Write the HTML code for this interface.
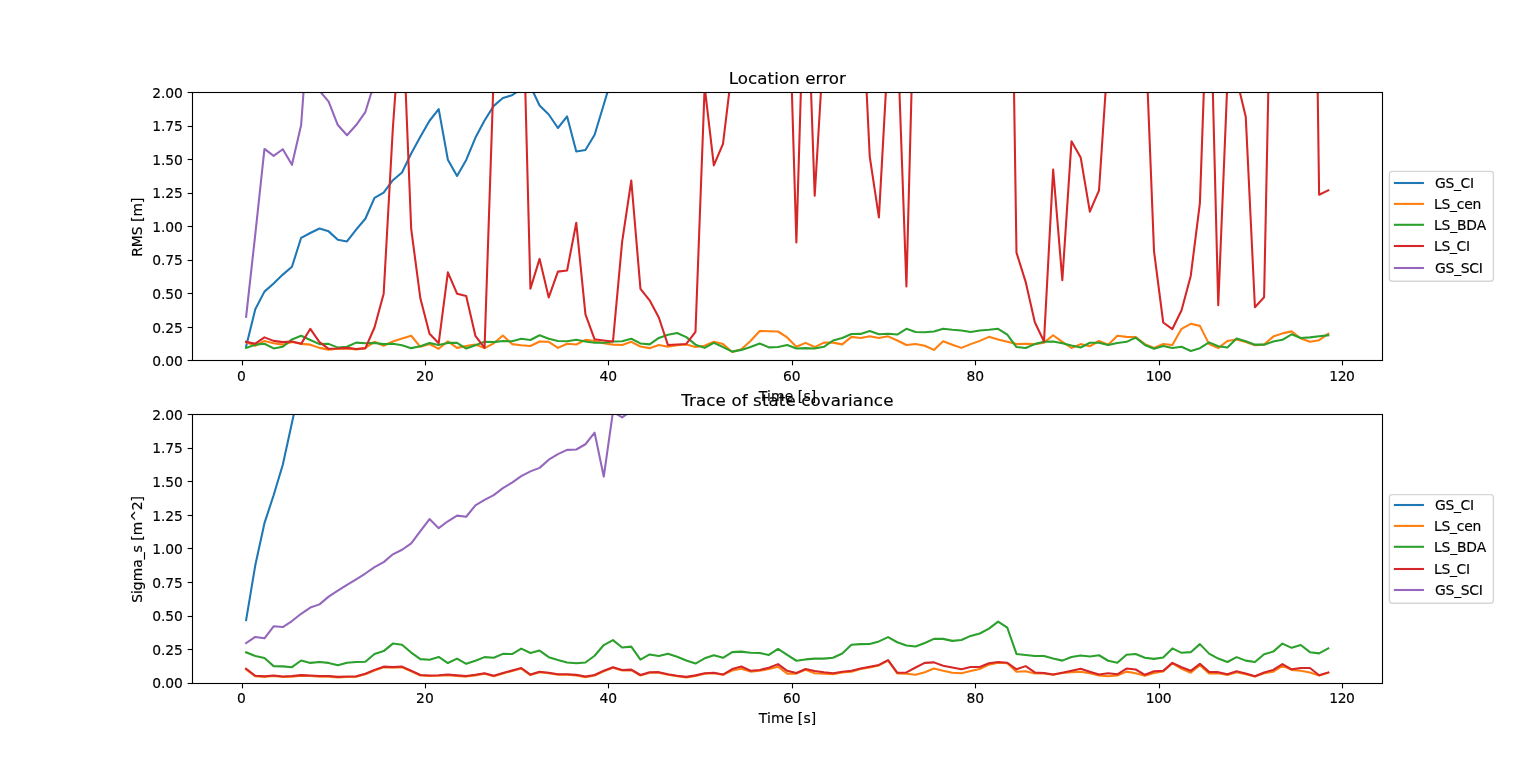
<!DOCTYPE html>
<html lang="en"><head><meta charset="utf-8"><title>Location error / Trace of state covariance</title>
<style>html,body{margin:0;padding:0;background:#ffffff;overflow:hidden}body{width:1536px;height:767px}svg text{white-space:pre;stroke:#000000;stroke-width:0.16px;stroke-linejoin:round}</style>
</head><body>
<svg width="1536" height="767" viewBox="0 0 1536 767" style="display:block">
<rect width="1536" height="767" fill="#ffffff"/>
<defs>
<clipPath id="c0"><rect x="192.00" y="92.04" width="1190.40" height="268.45"/></clipPath>
<clipPath id="c1"><rect x="192.00" y="414.18" width="1190.40" height="268.45"/></clipPath>
</defs>
<g id="axes1">
<g clip-path="url(#c0)" fill="none" stroke-width="2.083" stroke-linejoin="round" stroke-linecap="square">
<polyline stroke="#1f77b4" points="246.11,346.53 255.28,309.22 264.45,291.63 273.62,283.44 282.79,274.59 291.96,266.80 301.14,237.81 310.31,232.98 319.48,228.55 328.65,231.37 337.82,239.82 346.99,241.43 356.16,229.62 365.33,218.75 374.50,197.81 383.67,192.57 392.85,180.23 402.02,172.44 411.19,153.52 420.36,136.87 429.53,120.76 438.70,109.09 447.87,159.69 457.04,175.93 466.21,159.96 475.38,137.81 484.56,120.50 493.73,105.87 502.90,97.95 512.07,95.26 521.24,88.95 530.41,86.13 539.58,105.46 548.75,114.46 557.92,128.01 567.10,116.47 576.27,151.50 585.44,150.03 594.61,134.72 603.78,104.52 612.95,73.92 622.12,51.77 631.29,40.09 640.46,28.41 649.63,16.73 658.81,5.06 667.98,-6.62 677.15,-18.30 686.32,-29.98 695.49,-41.66 704.66,-53.34 713.83,-65.02 723.00,-76.70 732.17,-88.38 741.34,-100.06 750.52,-111.74 759.69,-123.42 768.86,-135.10 778.03,-146.78 787.20,-158.46 796.37,-170.13 805.54,-181.81 814.71,-193.49 823.88,-205.17 833.06,-216.85 842.23,-228.53 851.40,-240.21 860.57,-251.89 869.74,-263.57 878.91,-275.25 888.08,-286.93 897.25,-298.61 906.42,-310.29 915.59,-321.97 924.77,-333.64 933.94,-345.32 943.11,-357.00 952.28,-368.68 961.45,-380.36 970.62,-392.04 979.79,-403.72 988.96,-415.40 998.13,-427.08 1007.30,-438.76 1016.48,-450.44 1025.65,-462.12 1034.82,-473.80 1043.99,-485.48 1053.16,-497.16 1062.33,-508.83 1071.50,-520.51 1080.67,-532.19 1089.84,-543.87 1099.02,-555.55 1108.19,-567.23 1117.36,-578.91 1126.53,-590.59 1135.70,-602.27 1144.87,-613.95 1154.04,-625.63 1163.21,-637.31 1172.38,-648.99 1181.55,-660.67 1190.73,-672.35 1199.90,-684.02 1209.07,-695.70 1218.24,-707.38 1227.41,-719.06 1236.58,-730.74 1245.75,-742.42 1254.92,-754.10 1264.09,-765.78 1273.26,-777.46 1282.44,-789.14 1291.61,-800.82 1300.78,-812.50 1309.95,-824.18 1319.12,-835.86 1328.29,-847.53"/>
<polyline stroke="#ff7f0e" points="246.11,342.10 255.28,345.73 264.45,340.89 273.62,343.17 282.79,344.65 291.96,342.10 301.14,343.85 310.31,344.65 319.48,347.87 328.65,349.62 337.82,348.81 346.99,348.41 356.16,349.35 365.33,347.87 374.50,341.83 383.67,345.73 392.85,341.56 402.02,338.48 411.19,335.79 420.36,346.80 429.53,343.98 438.70,348.81 447.87,341.30 457.04,347.87 466.21,345.99 475.38,344.65 484.56,348.14 493.73,343.31 502.90,335.52 512.07,344.11 521.24,345.19 530.41,345.99 539.58,341.56 548.75,341.83 557.92,347.87 567.10,343.71 576.27,344.52 585.44,339.82 594.61,341.03 603.78,343.17 612.95,344.65 622.12,344.92 631.29,341.83 640.46,346.53 649.63,348.14 658.81,345.05 667.98,346.80 677.15,345.19 686.32,344.52 695.49,346.93 704.66,345.73 713.83,341.83 723.00,344.11 732.17,352.03 741.34,349.22 750.52,341.03 759.69,330.96 768.86,331.23 778.03,331.50 787.20,337.40 796.37,346.80 805.54,342.91 814.71,347.07 823.88,342.64 833.06,342.64 842.23,344.38 851.40,336.87 860.57,337.94 869.74,336.20 878.91,338.07 888.08,336.33 897.25,340.49 906.42,345.05 915.59,343.98 924.77,345.73 933.94,349.89 943.11,341.30 952.28,344.65 961.45,347.87 970.62,344.11 979.79,340.89 988.96,336.87 998.13,339.42 1007.30,341.83 1016.48,344.11 1025.65,343.71 1034.82,344.11 1043.99,342.64 1053.16,335.26 1062.33,341.83 1071.50,348.01 1080.67,344.11 1089.84,346.26 1099.02,340.89 1108.19,344.65 1117.36,335.79 1126.53,336.87 1135.70,337.13 1144.87,344.11 1154.04,347.87 1163.21,343.98 1172.38,345.05 1181.55,328.81 1190.73,323.85 1199.90,325.86 1209.07,344.11 1218.24,348.14 1227.41,341.03 1236.58,339.42 1245.75,342.10 1254.92,345.19 1264.09,344.65 1273.26,336.60 1282.44,333.38 1291.61,331.36 1300.78,338.48 1309.95,341.83 1319.12,340.22 1328.29,333.78"/>
<polyline stroke="#2ca02c" points="246.11,347.87 255.28,344.65 264.45,343.71 273.62,348.41 282.79,346.80 291.96,339.42 301.14,335.79 310.31,339.95 319.48,344.11 328.65,343.85 337.82,347.60 346.99,346.80 356.16,342.64 365.33,343.31 374.50,342.91 383.67,344.11 392.85,343.71 402.02,345.19 411.19,348.14 420.36,346.26 429.53,342.91 438.70,345.05 447.87,342.91 457.04,342.91 466.21,348.54 475.38,345.19 484.56,341.83 493.73,342.10 502.90,341.03 512.07,341.30 521.24,338.75 530.41,339.95 539.58,335.26 548.75,338.75 557.92,341.03 567.10,341.30 576.27,339.69 585.44,341.56 594.61,342.77 603.78,342.77 612.95,341.56 622.12,341.30 631.29,338.75 640.46,343.44 649.63,344.38 658.81,337.94 667.98,334.72 677.15,332.97 686.32,337.13 695.49,344.65 704.66,347.87 713.83,342.91 723.00,347.07 732.17,351.63 741.34,349.89 750.52,347.07 759.69,343.44 768.86,347.34 778.03,346.93 787.20,345.05 796.37,348.54 805.54,348.14 814.71,348.54 823.88,346.80 833.06,340.49 842.23,337.94 851.40,334.05 860.57,333.91 869.74,331.09 878.91,334.32 888.08,333.78 897.25,334.58 906.42,328.81 915.59,332.03 924.77,332.30 933.94,331.50 943.11,328.68 952.28,329.75 961.45,330.56 970.62,332.03 979.79,330.42 988.96,329.75 998.13,328.81 1007.30,334.58 1016.48,347.07 1025.65,348.01 1034.82,344.11 1043.99,341.83 1053.16,341.56 1062.33,343.17 1071.50,345.59 1080.67,347.47 1089.84,342.77 1099.02,342.77 1108.19,344.92 1117.36,342.91 1126.53,341.83 1135.70,337.67 1144.87,344.92 1154.04,348.81 1163.21,345.99 1172.38,348.01 1181.55,346.80 1190.73,350.96 1199.90,348.14 1209.07,342.37 1218.24,346.26 1227.41,347.47 1236.58,338.61 1245.75,341.30 1254.92,344.65 1264.09,344.65 1273.26,341.56 1282.44,339.82 1291.61,334.32 1300.78,338.07 1309.95,337.40 1319.12,336.20 1328.29,335.26"/>
<polyline stroke="#d62728" points="246.11,341.83 255.28,343.71 264.45,337.40 273.62,340.89 282.79,342.10 291.96,341.56 301.14,343.85 310.31,328.81 319.48,342.10 328.65,348.81 337.82,348.54 346.99,347.87 356.16,349.08 365.33,348.41 374.50,327.47 383.67,293.65 392.85,128.28 402.02,-0.58 411.19,228.95 420.36,298.34 429.53,333.78 438.70,343.17 447.87,272.30 457.04,293.65 466.21,295.93 475.38,335.79 484.56,347.87 493.73,73.79 502.90,-42.18 512.07,-109.30 521.24,-67.69 530.41,288.81 539.58,258.88 548.75,297.40 557.92,271.63 567.10,270.43 576.27,222.78 585.44,314.45 594.61,339.28 603.78,340.49 612.95,341.56 622.12,241.97 631.29,180.49 640.46,288.81 649.63,300.36 658.81,317.54 667.98,345.05 677.15,344.52 686.32,343.98 695.49,331.90 704.66,86.67 713.83,165.33 723.00,143.85 732.17,67.88 741.34,-42.18 750.52,-42.18 759.69,-42.18 768.86,-42.18 778.03,-42.18 787.20,-65.00 796.37,242.37 805.54,-65.00 814.71,195.80 823.88,42.38 833.06,-42.18 842.23,-42.18 851.40,-42.18 860.57,-34.13 869.74,156.60 878.91,217.41 888.08,51.77 897.25,30.30 906.42,286.53 915.59,-63.66 924.77,-42.18 933.94,-42.18 943.11,-42.18 952.28,-42.18 961.45,-42.18 970.62,-42.18 979.79,-42.18 988.96,-42.18 998.13,-42.18 1007.30,-350.90 1016.48,252.57 1025.65,281.83 1034.82,322.24 1043.99,341.56 1053.16,169.49 1062.33,280.09 1071.50,141.30 1080.67,157.41 1089.84,211.63 1099.02,190.29 1108.19,52.31 1117.36,-42.18 1126.53,-42.18 1135.70,-42.18 1144.87,20.23 1154.04,251.37 1163.21,322.50 1172.38,329.08 1181.55,310.29 1190.73,275.93 1199.90,203.18 1209.07,-58.29 1218.24,305.32 1227.41,81.30 1236.58,78.62 1245.75,116.74 1254.92,307.20 1264.09,297.27 1273.26,-150.91 1282.44,-42.18 1291.61,-42.18 1300.78,-42.18 1309.95,-471.70 1319.12,194.72 1328.29,190.29"/>
<polyline stroke="#9467bd" points="246.11,316.73 255.28,234.32 264.45,148.95 273.62,155.93 282.79,149.22 291.96,164.79 301.14,125.06 310.31,-1.92 319.48,90.70 328.65,101.57 337.82,125.06 346.99,135.26 356.16,125.06 365.33,112.04 374.50,82.64 383.67,38.35 392.85,25.84 402.02,13.33 411.19,0.82 420.36,-11.69 429.53,-24.20 438.70,-36.71 447.87,-49.22 457.04,-61.73 466.21,-74.24 475.38,-86.75 484.56,-99.26 493.73,-111.77 502.90,-124.28 512.07,-136.79 521.24,-149.30 530.41,-161.81 539.58,-174.32 548.75,-186.84 557.92,-199.35 567.10,-211.86 576.27,-224.37 585.44,-236.88 594.61,-249.39 603.78,-261.90 612.95,-274.41 622.12,-286.92 631.29,-299.43 640.46,-311.94 649.63,-324.45 658.81,-336.96 667.98,-349.47 677.15,-361.98 686.32,-374.49 695.49,-387.00 704.66,-399.51 713.83,-412.02 723.00,-424.53 732.17,-437.04 741.34,-449.55 750.52,-462.06 759.69,-474.57 768.86,-487.08 778.03,-499.59 787.20,-512.10 796.37,-524.61 805.54,-537.12 814.71,-549.63 823.88,-562.14 833.06,-574.65 842.23,-587.16 851.40,-599.67 860.57,-612.19 869.74,-624.70 878.91,-637.21 888.08,-649.72 897.25,-662.23 906.42,-674.74 915.59,-687.25 924.77,-699.76 933.94,-712.27 943.11,-724.78 952.28,-737.29 961.45,-749.80 970.62,-762.31 979.79,-774.82 988.96,-787.33 998.13,-799.84 1007.30,-812.35 1016.48,-824.86 1025.65,-837.37 1034.82,-849.88 1043.99,-862.39 1053.16,-874.90 1062.33,-887.41 1071.50,-899.92 1080.67,-912.43 1089.84,-924.94 1099.02,-937.45 1108.19,-949.96 1117.36,-962.47 1126.53,-974.98 1135.70,-987.49 1144.87,-1000.00 1154.04,-1012.51 1163.21,-1025.02 1172.38,-1037.54 1181.55,-1050.05 1190.73,-1062.56 1199.90,-1075.07 1209.07,-1087.58 1218.24,-1100.09 1227.41,-1112.60 1236.58,-1125.11 1245.75,-1137.62 1254.92,-1150.13 1264.09,-1162.64 1273.26,-1175.15 1282.44,-1187.66 1291.61,-1200.17 1300.78,-1212.68 1309.95,-1225.19 1319.12,-1237.70 1328.29,-1250.21"/>
</g>
<g stroke="#000000" stroke-width="1.11" fill="none">
<line x1="242.5" y1="360.5" x2="242.5" y2="365.36"/>
<line x1="425.5" y1="360.5" x2="425.5" y2="365.36"/>
<line x1="608.5" y1="360.5" x2="608.5" y2="365.36"/>
<line x1="792.5" y1="360.5" x2="792.5" y2="365.36"/>
<line x1="975.5" y1="360.5" x2="975.5" y2="365.36"/>
<line x1="1159.5" y1="360.5" x2="1159.5" y2="365.36"/>
<line x1="1342.5" y1="360.5" x2="1342.5" y2="365.36"/>
<line x1="192.5" y1="360.5" x2="187.64" y2="360.5"/>
<line x1="192.5" y1="327.5" x2="187.64" y2="327.5"/>
<line x1="192.5" y1="293.5" x2="187.64" y2="293.5"/>
<line x1="192.5" y1="260.5" x2="187.64" y2="260.5"/>
<line x1="192.5" y1="226.5" x2="187.64" y2="226.5"/>
<line x1="192.5" y1="193.5" x2="187.64" y2="193.5"/>
<line x1="192.5" y1="159.5" x2="187.64" y2="159.5"/>
<line x1="192.5" y1="126.5" x2="187.64" y2="126.5"/>
<line x1="192.5" y1="92.5" x2="187.64" y2="92.5"/>
<rect x="192.5" y="92.5" width="1190.0" height="268.0" stroke-linejoin="miter"/>
</g>
<g style="font-family:'DejaVu Sans','Liberation Sans',sans-serif;font-size:13.889px" fill="#000000">
<text x="241.52" y="380.77" text-anchor="middle">0</text>
<text x="424.94" y="380.77" text-anchor="middle">20</text>
<text x="608.36" y="380.77" text-anchor="middle">40</text>
<text x="791.79" y="380.77" text-anchor="middle">60</text>
<text x="975.21" y="380.77" text-anchor="middle">80</text>
<text x="1158.63" y="380.77" text-anchor="middle" textLength="25.8">100</text>
<text x="1342.05" y="380.77" text-anchor="middle" textLength="25.8">120</text>
<text x="182.73" y="366.00" text-anchor="end" textLength="30.5">0.00</text>
<text x="182.73" y="333.00" text-anchor="end" textLength="30.5">0.25</text>
<text x="182.73" y="299.00" text-anchor="end" textLength="30.5">0.50</text>
<text x="182.73" y="265.00" text-anchor="end" textLength="30.5">0.75</text>
<text x="182.73" y="232.00" text-anchor="end" textLength="30.5">1.00</text>
<text x="182.73" y="198.00" text-anchor="end" textLength="30.5">1.25</text>
<text x="182.73" y="165.00" text-anchor="end" textLength="30.5">1.50</text>
<text x="182.73" y="131.00" text-anchor="end" textLength="30.5">1.75</text>
<text x="182.73" y="98.00" text-anchor="end" textLength="30.5">2.00</text>
<text x="787.50" y="400.89" text-anchor="middle" textLength="57.3">Time [s]</text>
<text transform="translate(142.00,227.26) rotate(-90)" text-anchor="middle">RMS [m]</text>
</g>
<text x="787.30" y="83.94" text-anchor="middle" textLength="117.2" style="font-family:'DejaVu Sans','Liberation Sans',sans-serif;font-size:16.667px" fill="#000000">Location error</text>
<g id="legend1">
<rect x="1389.4" y="171.40" width="104.0" height="109.80" rx="2.8" ry="2.8" fill="#ffffff" fill-opacity="0.8" stroke="#cccccc" stroke-opacity="0.8" stroke-width="1.39"/>
<line x1="1394.9" y1="183.00" x2="1422.9" y2="183.00" stroke="#1f77b4" stroke-width="2.083" stroke-linecap="square"/>
<text x="1435.1" y="187.90" textLength="38.95" style="font-family:'DejaVu Sans','Liberation Sans',sans-serif;font-size:13.889px" fill="#000000">GS_CI</text>
<line x1="1394.9" y1="203.90" x2="1422.9" y2="203.90" stroke="#ff7f0e" stroke-width="2.083" stroke-linecap="square"/>
<text x="1434.0" y="209.00" textLength="47.27" style="font-family:'DejaVu Sans','Liberation Sans',sans-serif;font-size:13.889px" fill="#000000">LS_cen</text>
<line x1="1394.9" y1="224.80" x2="1422.9" y2="224.80" stroke="#2ca02c" stroke-width="2.083" stroke-linecap="square"/>
<text x="1434.0" y="230.20" textLength="52.16" style="font-family:'DejaVu Sans','Liberation Sans',sans-serif;font-size:13.889px" fill="#000000">LS_BDA</text>
<line x1="1394.9" y1="246.00" x2="1422.9" y2="246.00" stroke="#d62728" stroke-width="2.083" stroke-linecap="square"/>
<text x="1434.0" y="250.80" textLength="36.1" style="font-family:'DejaVu Sans','Liberation Sans',sans-serif;font-size:13.889px" fill="#000000">LS_CI</text>
<line x1="1394.9" y1="268.00" x2="1422.9" y2="268.00" stroke="#9467bd" stroke-width="2.083" stroke-linecap="square"/>
<text x="1435.1" y="272.90" textLength="47.76" style="font-family:'DejaVu Sans','Liberation Sans',sans-serif;font-size:13.889px" fill="#000000">GS_SCI</text>
</g>
</g>
<g id="axes2">
<g clip-path="url(#c1)" fill="none" stroke-width="2.083" stroke-linejoin="round" stroke-linecap="square">
<polyline stroke="#1f77b4" points="246.11,620.08 255.28,565.32 264.45,523.17 273.62,495.25 282.79,464.78 291.96,422.77 301.14,381.03 310.31,333.64 319.48,288.42 328.65,243.19 337.82,197.97 346.99,152.74 356.16,107.52 365.33,62.29 374.50,17.07 383.67,-28.16 392.85,-73.38 402.02,-118.61 411.19,-163.83 420.36,-209.06 429.53,-254.28 438.70,-299.51 447.87,-344.74 457.04,-389.96 466.21,-435.19 475.38,-480.41 484.56,-525.64 493.73,-570.86 502.90,-616.09 512.07,-661.31 521.24,-706.54 530.41,-751.76 539.58,-796.99 548.75,-842.21 557.92,-887.44 567.10,-932.67 576.27,-977.89 585.44,-1023.12 594.61,-1068.34 603.78,-1113.57 612.95,-1158.79 622.12,-1204.02 631.29,-1249.24 640.46,-1294.47 649.63,-1339.69 658.81,-1384.92 667.98,-1430.14 677.15,-1475.37 686.32,-1520.59 695.49,-1565.82 704.66,-1611.05 713.83,-1656.27 723.00,-1701.50 732.17,-1746.72 741.34,-1791.95 750.52,-1837.17 759.69,-1882.40 768.86,-1927.62 778.03,-1972.85 787.20,-2018.07 796.37,-2063.30 805.54,-2108.52 814.71,-2153.75 823.88,-2198.98 833.06,-2244.20 842.23,-2289.43 851.40,-2334.65 860.57,-2379.88 869.74,-2425.10 878.91,-2470.33 888.08,-2515.55 897.25,-2560.78 906.42,-2606.00 915.59,-2651.23 924.77,-2696.45 933.94,-2741.68 943.11,-2786.90 952.28,-2832.13 961.45,-2877.36 970.62,-2922.58 979.79,-2967.81 988.96,-3013.03 998.13,-3058.26 1007.30,-3103.48 1016.48,-3148.71 1025.65,-3193.93 1034.82,-3239.16 1043.99,-3284.38 1053.16,-3329.61 1062.33,-3374.83 1071.50,-3420.06 1080.67,-3465.29 1089.84,-3510.51 1099.02,-3555.74 1108.19,-3600.96 1117.36,-3646.19 1126.53,-3691.41 1135.70,-3736.64 1144.87,-3781.86 1154.04,-3827.09 1163.21,-3872.31 1172.38,-3917.54 1181.55,-3962.76 1190.73,-4007.99 1199.90,-4053.21 1209.07,-4098.44 1218.24,-4143.67 1227.41,-4188.89 1236.58,-4234.12 1245.75,-4279.34 1254.92,-4324.57 1264.09,-4369.79 1273.26,-4415.02 1282.44,-4460.24 1291.61,-4505.47 1300.78,-4550.69 1309.95,-4595.92 1319.12,-4641.14 1328.29,-4686.37"/>
<polyline stroke="#ff7f0e" points="246.11,669.34 255.28,676.32 264.45,676.86 273.62,676.05 282.79,676.99 291.96,676.59 301.14,675.65 310.31,676.05 319.48,676.59 328.65,676.59 337.82,677.40 346.99,676.99 356.16,676.86 365.33,674.31 374.50,670.42 383.67,667.19 392.85,667.60 402.02,667.19 411.19,671.22 420.36,675.52 429.53,676.05 438.70,675.78 447.87,675.11 457.04,675.92 466.21,676.59 475.38,675.38 484.56,673.77 493.73,676.32 502.90,673.50 512.07,670.95 521.24,668.54 530.41,675.11 539.58,672.29 548.75,673.23 557.92,674.71 567.10,674.71 576.27,675.38 585.44,677.13 594.61,675.52 603.78,671.22 612.95,667.73 622.12,670.55 631.29,670.15 640.46,675.52 649.63,672.83 658.81,672.70 667.98,674.84 677.15,676.32 686.32,677.40 695.49,675.92 704.66,673.77 713.83,673.23 723.00,674.84 732.17,670.55 741.34,668.80 750.52,671.62 759.69,670.82 768.86,669.07 778.03,666.66 787.20,673.64 796.37,673.64 805.54,669.88 814.71,673.23 823.88,673.64 833.06,674.17 842.23,672.43 851.40,671.76 860.57,669.07 869.74,667.46 878.91,665.45 888.08,660.48 897.25,673.50 906.42,673.77 915.59,674.84 924.77,672.16 933.94,668.54 943.11,670.82 952.28,672.70 961.45,673.23 970.62,671.09 979.79,669.07 988.96,664.64 998.13,662.76 1007.30,663.30 1016.48,671.76 1025.65,671.22 1034.82,673.50 1043.99,673.50 1053.16,674.84 1062.33,672.97 1071.50,672.16 1080.67,671.76 1089.84,673.23 1099.02,675.52 1108.19,676.32 1117.36,675.52 1126.53,671.62 1135.70,673.23 1144.87,675.78 1154.04,672.97 1163.21,671.36 1172.38,663.30 1181.55,668.80 1190.73,672.70 1199.90,665.18 1209.07,673.50 1218.24,673.23 1227.41,674.98 1236.58,672.29 1245.75,674.31 1254.92,676.59 1264.09,673.23 1273.26,671.62 1282.44,665.85 1291.61,669.88 1300.78,670.82 1309.95,672.43 1319.12,675.52 1328.29,672.70"/>
<polyline stroke="#2ca02c" points="246.11,652.30 255.28,655.92 264.45,658.07 273.62,666.12 282.79,666.39 291.96,667.19 301.14,660.48 310.31,662.90 319.48,661.96 328.65,662.90 337.82,665.31 346.99,662.76 356.16,661.96 365.33,661.83 374.50,654.04 383.67,651.09 392.85,643.57 402.02,644.78 411.19,652.56 420.36,659.14 429.53,659.68 438.70,656.99 447.87,663.03 457.04,658.60 466.21,663.84 475.38,660.75 484.56,657.13 493.73,657.80 502.90,653.91 512.07,654.04 521.24,648.67 530.41,652.97 539.58,650.55 548.75,657.13 557.92,659.95 567.10,662.50 576.27,663.30 585.44,662.50 594.61,655.78 603.78,645.05 612.95,640.08 622.12,647.46 631.29,646.66 640.46,659.54 649.63,654.44 658.81,655.92 667.98,653.64 677.15,656.72 686.32,660.48 695.49,663.57 704.66,658.34 713.83,655.25 723.00,657.80 732.17,652.16 741.34,651.62 750.52,652.83 759.69,652.97 768.86,654.98 778.03,648.94 787.20,654.98 796.37,660.75 805.54,659.41 814.71,658.60 823.88,658.60 833.06,657.80 842.23,653.50 851.40,644.78 860.57,644.11 869.74,643.97 878.91,641.42 888.08,637.13 897.25,642.23 906.42,645.58 915.59,646.52 924.77,643.03 933.94,638.87 943.11,638.87 952.28,640.89 961.45,639.95 970.62,635.92 979.79,633.50 988.96,628.67 998.13,621.56 1007.30,627.73 1016.48,653.91 1025.65,654.98 1034.82,655.92 1043.99,656.05 1053.16,658.60 1062.33,660.62 1071.50,656.99 1080.67,655.52 1089.84,656.46 1099.02,655.25 1108.19,660.75 1117.36,662.76 1126.53,654.71 1135.70,654.04 1144.87,657.66 1154.04,658.87 1163.21,657.53 1172.38,648.40 1181.55,652.83 1190.73,652.16 1199.90,644.11 1209.07,653.64 1218.24,658.60 1227.41,661.96 1236.58,657.13 1245.75,660.62 1254.92,661.96 1264.09,654.17 1273.26,651.62 1282.44,643.57 1291.61,647.87 1300.78,645.05 1309.95,652.16 1319.12,653.37 1328.29,648.40"/>
<polyline stroke="#d62728" points="246.11,668.80 255.28,675.78 264.45,676.32 273.62,675.52 282.79,676.46 291.96,676.05 301.14,675.11 310.31,675.52 319.48,676.05 328.65,676.05 337.82,676.86 346.99,676.46 356.16,676.32 365.33,673.77 374.50,669.88 383.67,666.66 392.85,667.06 402.02,666.66 411.19,670.68 420.36,674.98 429.53,675.52 438.70,675.25 447.87,674.58 457.04,675.38 466.21,676.05 475.38,674.84 484.56,673.23 493.73,675.78 502.90,672.97 512.07,670.42 521.24,668.00 530.41,674.58 539.58,671.76 548.75,672.70 557.92,674.17 567.10,674.17 576.27,674.84 585.44,676.59 594.61,674.98 603.78,670.68 612.95,667.19 622.12,670.01 631.29,669.61 640.46,674.98 649.63,672.29 658.81,672.16 667.98,674.31 677.15,675.78 686.32,676.86 695.49,675.38 704.66,673.23 713.83,672.70 723.00,674.58 732.17,669.07 741.34,666.52 750.52,670.68 759.69,670.01 768.86,667.73 778.03,664.11 787.20,670.82 796.37,672.97 805.54,668.94 814.71,671.09 823.88,672.29 833.06,673.23 842.23,671.76 851.40,670.82 860.57,668.54 869.74,666.66 878.91,664.91 888.08,660.08 897.25,672.70 906.42,672.43 915.59,667.46 924.77,662.90 933.94,662.36 943.11,665.72 952.28,667.60 961.45,669.34 970.62,667.06 979.79,666.93 988.96,663.30 998.13,661.96 1007.30,662.76 1016.48,669.34 1025.65,666.12 1034.82,672.43 1043.99,672.97 1053.16,674.58 1062.33,672.70 1071.50,670.82 1080.67,668.80 1089.84,671.76 1099.02,674.58 1108.19,673.23 1117.36,674.31 1126.53,668.54 1135.70,669.48 1144.87,674.84 1154.04,671.22 1163.21,670.82 1172.38,662.90 1181.55,667.19 1190.73,670.82 1199.90,663.84 1209.07,671.89 1218.24,672.16 1227.41,674.17 1236.58,671.36 1245.75,673.50 1254.92,676.32 1264.09,672.43 1273.26,669.88 1282.44,664.11 1291.61,669.34 1300.78,668.00 1309.95,668.00 1319.12,675.25 1328.29,672.43"/>
<polyline stroke="#9467bd" points="246.11,643.03 255.28,636.99 264.45,638.34 273.62,626.26 282.79,627.06 291.96,621.02 301.14,613.77 310.31,607.60 319.48,604.38 328.65,596.59 337.82,590.69 346.99,584.78 356.16,579.28 365.33,573.51 374.50,567.20 383.67,562.10 392.85,554.31 402.02,549.75 411.19,543.30 420.36,531.22 429.53,519.01 438.70,528.14 447.87,521.29 457.04,515.65 466.21,516.73 475.38,505.32 484.56,499.95 493.73,495.12 502.90,488.14 512.07,482.63 521.24,476.06 530.41,471.36 539.58,467.87 548.75,459.68 557.92,454.18 567.10,449.88 576.27,449.48 585.44,444.25 594.61,432.70 603.78,476.59 612.95,411.76 622.12,417.40 631.29,410.96 640.46,401.16 649.63,394.18 658.81,387.20 667.98,380.22 677.15,373.24 686.32,366.26 695.49,359.28 704.66,352.30 713.83,345.32 723.00,338.34 732.17,331.36 741.34,324.38 750.52,317.40 759.69,310.42 768.86,303.44 778.03,296.46 787.20,289.48 796.37,282.51 805.54,275.53 814.71,268.55 823.88,261.57 833.06,254.59 842.23,247.61 851.40,240.63 860.57,233.65 869.74,226.67 878.91,219.69 888.08,212.71 897.25,205.73 906.42,198.75 915.59,191.77 924.77,184.79 933.94,177.81 943.11,170.83 952.28,163.85 961.45,156.87 970.62,149.89 979.79,142.91 988.96,135.93 998.13,128.95 1007.30,121.97 1016.48,114.99 1025.65,108.01 1034.82,101.03 1043.99,94.05 1053.16,87.07 1062.33,80.09 1071.50,73.11 1080.67,66.13 1089.84,59.15 1099.02,52.18 1108.19,45.20 1117.36,38.22 1126.53,31.24 1135.70,24.26 1144.87,17.28 1154.04,10.30 1163.21,3.32 1172.38,-3.66 1181.55,-10.64 1190.73,-17.62 1199.90,-24.60 1209.07,-31.58 1218.24,-38.56 1227.41,-45.54 1236.58,-52.52 1245.75,-59.50 1254.92,-66.48 1264.09,-73.46 1273.26,-80.44 1282.44,-87.42 1291.61,-94.40 1300.78,-101.38 1309.95,-108.36 1319.12,-115.34 1328.29,-122.32"/>
</g>
<g stroke="#000000" stroke-width="1.11" fill="none">
<line x1="242.5" y1="683.5" x2="242.5" y2="688.36"/>
<line x1="425.5" y1="683.5" x2="425.5" y2="688.36"/>
<line x1="608.5" y1="683.5" x2="608.5" y2="688.36"/>
<line x1="792.5" y1="683.5" x2="792.5" y2="688.36"/>
<line x1="975.5" y1="683.5" x2="975.5" y2="688.36"/>
<line x1="1159.5" y1="683.5" x2="1159.5" y2="688.36"/>
<line x1="1342.5" y1="683.5" x2="1342.5" y2="688.36"/>
<line x1="192.5" y1="683.5" x2="187.64" y2="683.5"/>
<line x1="192.5" y1="649.5" x2="187.64" y2="649.5"/>
<line x1="192.5" y1="616.5" x2="187.64" y2="616.5"/>
<line x1="192.5" y1="582.5" x2="187.64" y2="582.5"/>
<line x1="192.5" y1="548.5" x2="187.64" y2="548.5"/>
<line x1="192.5" y1="515.5" x2="187.64" y2="515.5"/>
<line x1="192.5" y1="481.5" x2="187.64" y2="481.5"/>
<line x1="192.5" y1="448.5" x2="187.64" y2="448.5"/>
<line x1="192.5" y1="414.5" x2="187.64" y2="414.5"/>
<rect x="192.5" y="414.5" width="1190.0" height="269.0" stroke-linejoin="miter"/>
</g>
<g style="font-family:'DejaVu Sans','Liberation Sans',sans-serif;font-size:13.889px" fill="#000000">
<text x="241.52" y="702.91" text-anchor="middle">0</text>
<text x="424.94" y="702.91" text-anchor="middle">20</text>
<text x="608.36" y="702.91" text-anchor="middle">40</text>
<text x="791.79" y="702.91" text-anchor="middle">60</text>
<text x="975.21" y="702.91" text-anchor="middle">80</text>
<text x="1158.63" y="702.91" text-anchor="middle" textLength="25.8">100</text>
<text x="1342.05" y="702.91" text-anchor="middle" textLength="25.8">120</text>
<text x="182.73" y="688.00" text-anchor="end" textLength="30.5">0.00</text>
<text x="182.73" y="655.00" text-anchor="end" textLength="30.5">0.25</text>
<text x="182.73" y="621.00" text-anchor="end" textLength="30.5">0.50</text>
<text x="182.73" y="588.00" text-anchor="end" textLength="30.5">0.75</text>
<text x="182.73" y="554.00" text-anchor="end" textLength="30.5">1.00</text>
<text x="182.73" y="521.00" text-anchor="end" textLength="30.5">1.25</text>
<text x="182.73" y="487.00" text-anchor="end" textLength="30.5">1.50</text>
<text x="182.73" y="453.00" text-anchor="end" textLength="30.5">1.75</text>
<text x="182.73" y="420.00" text-anchor="end" textLength="30.5">2.00</text>
<text x="787.50" y="723.03" text-anchor="middle" textLength="57.3">Time [s]</text>
<text transform="translate(142.00,549.40) rotate(-90)" text-anchor="middle">Sigma_s [m^2]</text>
</g>
<text x="787.30" y="406.08" text-anchor="middle" textLength="212.2" style="font-family:'DejaVu Sans','Liberation Sans',sans-serif;font-size:16.667px" fill="#000000">Trace of state covariance</text>
<g id="legend2">
<rect x="1389.4" y="494.65" width="104.0" height="108.55" rx="2.8" ry="2.8" fill="#ffffff" fill-opacity="0.8" stroke="#cccccc" stroke-opacity="0.8" stroke-width="1.39"/>
<line x1="1394.9" y1="505.00" x2="1422.9" y2="505.00" stroke="#1f77b4" stroke-width="2.083" stroke-linecap="square"/>
<text x="1435.1" y="509.90" textLength="38.95" style="font-family:'DejaVu Sans','Liberation Sans',sans-serif;font-size:13.889px" fill="#000000">GS_CI</text>
<line x1="1394.9" y1="525.90" x2="1422.9" y2="525.90" stroke="#ff7f0e" stroke-width="2.083" stroke-linecap="square"/>
<text x="1434.0" y="531.00" textLength="47.27" style="font-family:'DejaVu Sans','Liberation Sans',sans-serif;font-size:13.889px" fill="#000000">LS_cen</text>
<line x1="1394.9" y1="546.80" x2="1422.9" y2="546.80" stroke="#2ca02c" stroke-width="2.083" stroke-linecap="square"/>
<text x="1434.0" y="552.20" textLength="52.16" style="font-family:'DejaVu Sans','Liberation Sans',sans-serif;font-size:13.889px" fill="#000000">LS_BDA</text>
<line x1="1394.9" y1="569.00" x2="1422.9" y2="569.00" stroke="#d62728" stroke-width="2.083" stroke-linecap="square"/>
<text x="1434.0" y="573.80" textLength="36.1" style="font-family:'DejaVu Sans','Liberation Sans',sans-serif;font-size:13.889px" fill="#000000">LS_CI</text>
<line x1="1394.9" y1="590.00" x2="1422.9" y2="590.00" stroke="#9467bd" stroke-width="2.083" stroke-linecap="square"/>
<text x="1435.1" y="594.90" textLength="47.76" style="font-family:'DejaVu Sans','Liberation Sans',sans-serif;font-size:13.889px" fill="#000000">GS_SCI</text>
</g>
</g>
</svg>
</body></html>
